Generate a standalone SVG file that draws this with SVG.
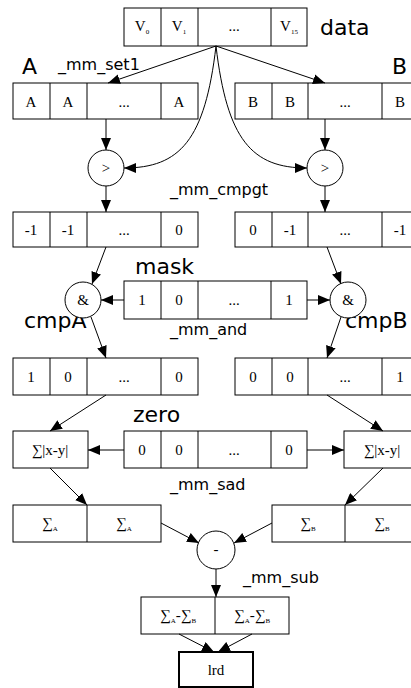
<svg xmlns="http://www.w3.org/2000/svg" width="411" height="688" viewBox="0 0 411 688">
<style>
.b{fill:#fff;stroke:#000;stroke-width:1}
.c{fill:#fff;stroke:#000;stroke-width:1}
.t{font-family:"Liberation Serif","DejaVu Serif",serif;font-size:15px;text-anchor:middle;fill:#000}
.s{font-size:7px}
.lbl{font-family:"DejaVu Sans","Liberation Sans",sans-serif;fill:#000}
.big{font-size:22px}
.med{font-size:16px}
.e{fill:none;stroke:#000;stroke-width:1;marker-end:url(#ah)}
</style>
<defs>
<marker id="ah" markerWidth="12" markerHeight="10" refX="12" refY="5" orient="auto" markerUnits="userSpaceOnUse"><path d="M0,0 L12,5 L0,10 z" fill="#000"/></marker>
</defs>
<rect width="411" height="688" fill="#fff"/>

<g id="labels">
<text class="lbl big" x="320" y="35">data</text>
<text class="lbl big" x="22" y="74">A</text>
<text class="lbl big" x="392" y="74">B</text>
<text class="lbl med" x="58" y="70">_mm_set1</text>
<text class="lbl med" x="170" y="195">_mm_cmpgt</text>
<text class="lbl big" x="135" y="274">mask</text>
<text class="lbl big" x="24" y="328">cmpA</text>
<text class="lbl big" x="345" y="328">cmpB</text>
<text class="lbl med" x="170" y="335">_mm_and</text>
<text class="lbl big" x="133" y="422">zero</text>
<text class="lbl med" x="170" y="490">_mm_sad</text>
<text class="lbl med" x="243" y="583">_mm_sub</text>
</g>

<g id="data">
<rect class="b" x="124" y="8" width="183" height="38"/>
<path d="M161,8V46M198,8V46M271,8V46" stroke="#000"/>
<text class="t" x="142" y="31">V<tspan class="s" dy="3">0</tspan></text>
<text class="t" x="179" y="31">V<tspan class="s" dy="3">1</tspan></text>
<text class="t" x="234" y="31">...</text>
<text class="t" x="289" y="31">V<tspan class="s" dy="3">15</tspan></text>
</g>

<g id="A">
<rect class="b" x="13" y="83" width="185" height="36"/>
<path d="M50,83V119M87,83V119M161,83V119" stroke="#000"/>
<text class="t" x="31" y="107">A</text>
<text class="t" x="68" y="107">A</text>
<text class="t" x="124" y="107">...</text>
<text class="t" x="179" y="107">A</text>
</g>

<g id="B">
<rect class="b" x="235" y="83" width="185" height="36"/>
<path d="M272,83V119M308,83V119M382,83V119" stroke="#000"/>
<text class="t" x="253" y="107">B</text>
<text class="t" x="290" y="107">B</text>
<text class="t" x="345" y="107">...</text>
<text class="t" x="400" y="107">B</text>
</g>

<g id="gtA"><circle class="c" cx="106" cy="168" r="18"/><text class="t" x="106" y="173">&gt;</text></g>
<g id="gtB"><circle class="c" cx="325" cy="168" r="18"/><text class="t" x="325" y="173">&gt;</text></g>

<g id="resA">
<rect class="b" x="13" y="212" width="185" height="35"/>
<path d="M50,212V247M87,212V247M161,212V247" stroke="#000"/>
<text class="t" x="31" y="235">-1</text>
<text class="t" x="68" y="235">-1</text>
<text class="t" x="124" y="235">...</text>
<text class="t" x="179" y="235">0</text>
</g>

<g id="resB">
<rect class="b" x="235" y="212" width="185" height="35"/>
<path d="M272,212V247M308,212V247M382,212V247" stroke="#000"/>
<text class="t" x="253" y="235">0</text>
<text class="t" x="290" y="235">-1</text>
<text class="t" x="345" y="235">...</text>
<text class="t" x="400" y="235">-1</text>
</g>

<g id="mask">
<rect class="b" x="124" y="281" width="183" height="38"/>
<path d="M161,281V319M198,281V319M271,281V319" stroke="#000"/>
<text class="t" x="142" y="305">1</text>
<text class="t" x="179" y="305">0</text>
<text class="t" x="234" y="305">...</text>
<text class="t" x="289" y="305">1</text>
</g>

<g id="andA"><circle class="c" cx="83" cy="300" r="18"/><text class="t" x="83" y="305">&amp;</text></g>
<g id="andB"><circle class="c" cx="348" cy="300" r="18"/><text class="t" x="348" y="305">&amp;</text></g>

<g id="cmpA">
<rect class="b" x="13" y="358" width="185" height="37"/>
<path d="M50,358V395M87,358V395M161,358V395" stroke="#000"/>
<text class="t" x="31" y="382">1</text>
<text class="t" x="68" y="382">0</text>
<text class="t" x="124" y="382">...</text>
<text class="t" x="179" y="382">0</text>
</g>

<g id="cmpB">
<rect class="b" x="235" y="358" width="185" height="37"/>
<path d="M272,358V395M308,358V395M382,358V395" stroke="#000"/>
<text class="t" x="253" y="382">0</text>
<text class="t" x="290" y="382">0</text>
<text class="t" x="345" y="382">...</text>
<text class="t" x="400" y="382">1</text>
</g>

<g id="zero">
<rect class="b" x="124" y="431" width="183" height="37"/>
<path d="M161,431V468M198,431V468M271,431V468" stroke="#000"/>
<text class="t" x="142" y="455">0</text>
<text class="t" x="179" y="455">0</text>
<text class="t" x="234" y="455">...</text>
<text class="t" x="289" y="455">0</text>
</g>

<g id="sadA"><rect class="b" x="13" y="431" width="75" height="37"/><text class="t" x="50" y="455">∑|x-y|</text></g>
<g id="sadB"><rect class="b" x="344" y="431" width="76" height="37"/><text class="t" x="382" y="455">∑|x-y|</text></g>

<g id="sumA">
<rect class="b" x="13" y="505" width="148" height="37"/>
<path d="M87,505V542" stroke="#000"/>
<text class="t" x="50" y="528">∑<tspan class="s" dy="3">A</tspan></text>
<text class="t" x="124" y="528">∑<tspan class="s" dy="3">A</tspan></text>
</g>

<g id="sumB">
<rect class="b" x="272" y="505" width="148" height="37"/>
<path d="M345,505V542" stroke="#000"/>
<text class="t" x="308" y="528">∑<tspan class="s" dy="3">B</tspan></text>
<text class="t" x="382" y="528">∑<tspan class="s" dy="3">B</tspan></text>
</g>

<g id="sub"><circle class="c" cx="216" cy="550" r="19"/><text class="t" x="216" y="554">-</text></g>

<g id="diff">
<rect class="b" x="141" y="597" width="148" height="37"/>
<path d="M215,597V634" stroke="#000"/>
<text class="t" x="178" y="620">∑<tspan class="s" dy="3">A</tspan><tspan dy="-3">-∑</tspan><tspan class="s" dy="3">B</tspan></text>
<text class="t" x="252" y="620">∑<tspan class="s" dy="3">A</tspan><tspan dy="-3">-∑</tspan><tspan class="s" dy="3">B</tspan></text>
</g>

<g id="lrd"><rect x="179" y="652" width="74" height="35" fill="#fff" stroke="#000" stroke-width="2"/><text class="t" x="216" y="675">lrd</text></g>

<g id="connectors">
<path class="e" d="M216,46 L108,83"/>
<path class="e" d="M216,46 L325,83"/>
<path class="e" d="M216,46 C205,140 180,168 124,168"/>
<path class="e" d="M216,46 C227,140 252,168 307,168"/>
<path class="e" d="M106,119 L106,150"/>
<path class="e" d="M325,119 L325,150"/>
<path class="e" d="M106,186 L106,212"/>
<path class="e" d="M325,186 L325,212"/>
<path class="e" d="M106,247 L92,284"/>
<path class="e" d="M327,247 L341,284"/>
<path class="e" d="M124,300 L101,300"/>
<path class="e" d="M307,300 L330,300"/>
<path class="e" d="M91,317 L106,358"/>
<path class="e" d="M341,317 L327,358"/>
<path class="e" d="M106,395 L50,431"/>
<path class="e" d="M327,395 L383,431"/>
<path class="e" d="M124,450 L88,450"/>
<path class="e" d="M307,450 L344,450"/>
<path class="e" d="M50,468 L87,505"/>
<path class="e" d="M383,468 L345,505"/>
<path class="e" d="M161,523 L199,543"/>
<path class="e" d="M272,523 L234,543"/>
<path class="e" d="M216,569 L216,597"/>
<path class="e" d="M179,634 L214,652"/>
<path class="e" d="M252,634 L218,652"/>
</g>
</svg>
